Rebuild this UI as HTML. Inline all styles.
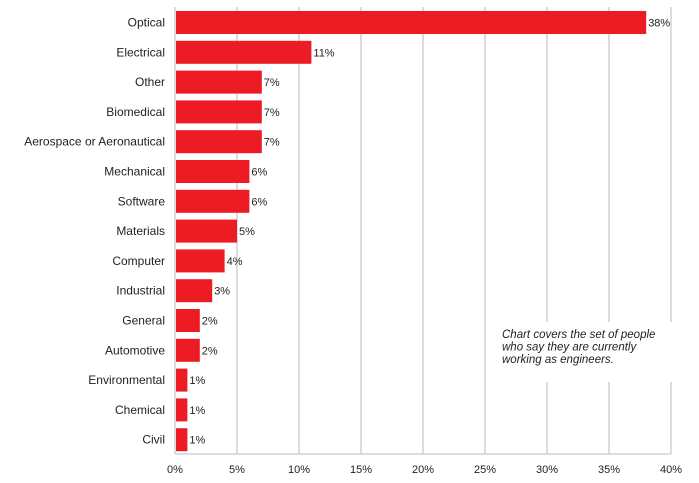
<!DOCTYPE html>
<html><head><meta charset="utf-8"><style>
body{margin:0;background:#fff;}
svg{display:block;font-family:"Liberation Sans",sans-serif;}
</style></head><body>
<svg id="c" width="699" height="483"></svg>
<script>
const categories=["Optical","Electrical","Other","Biomedical","Aerospace or Aeronautical","Mechanical","Software","Materials","Computer","Industrial","General","Automotive","Environmental","Chemical","Civil"];
const values=[38,11,7,7,7,6,6,5,4,3,2,2,1,1,1];
const ticks=[0,5,10,15,20,25,30,35,40];
const NS="http://www.w3.org/2000/svg";
const svg=document.getElementById('c');
const x0=175,pxPer=12.4,top0=11,step=29.8,bh=23;
const xs=v=>x0+v*pxPer;
const ys=i=>top0+i*step;
function mk(t,a,txt){const e=document.createElementNS(NS,t);for(const k in a)e.setAttribute(k,a[k]);if(txt!=null)e.textContent=txt;svg.appendChild(e);return e;}
ticks.forEach(t=>{
 if(t>0){const g=mk('line',{x1:xs(t),x2:xs(t),y1:7,y2:454,stroke:'#bbb','stroke-width':1});
 
 }
 const l=mk('text',{x:xs(t),y:473,'text-anchor':'middle','font-size':11,fill:'#222'},t+'%');
 
 
});
const ax=mk('line',{x1:x0,x2:xs(40),y1:454,y2:454,stroke:'#bbb','stroke-width':1});


const ay=mk('line',{x1:x0,x2:x0,y1:7,y2:454,stroke:'#bbb','stroke-width':1});


// note box
const nb=mk('rect',{x:497,y:322,width:180,height:60,fill:'#fff'});


["Chart covers the set of people","who say they are currently","working as engineers."].forEach((s,i)=>{
 const t=mk('text',{x:502,y:338+i*12.5,'font-size':11.5,'font-style':'italic',fill:'#222'},s);
 
 
});
categories.forEach((c,i)=>{
 const y=ys(i);
 const r=mk('rect',{x:x0+1,y:y,width:xs(values[i])-x0-1,height:bh,fill:'#ED1C24'});
 
 
 const lb=mk('text',{x:165,y:y+bh/2+4,'text-anchor':'end','font-size':12,fill:'#222'},c);
 
 
 const v=mk('text',{x:xs(values[i])+2,y:y+bh/2+4,'font-size':11,fill:'#222'},values[i]+'%');
 
 
});
</script>
</body></html>
